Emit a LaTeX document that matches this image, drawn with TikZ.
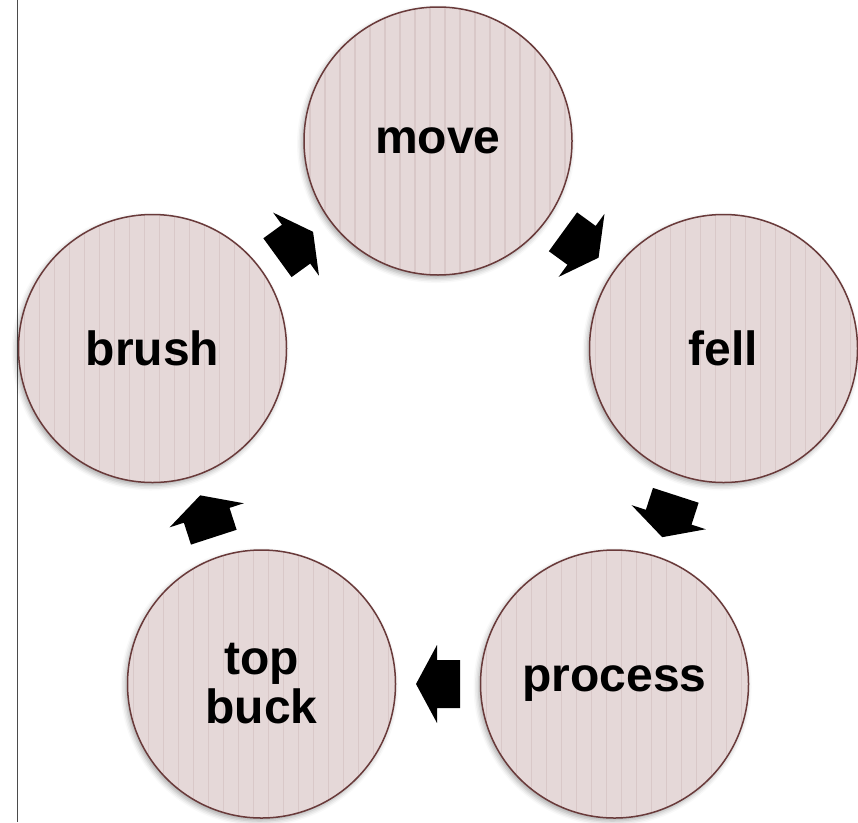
\documentclass[tikz,border=0pt]{standalone}
\usepackage{fontspec}
\setmainfont{Liberation Sans}
\usetikzlibrary{calc,shadows.blur}

\definecolor{discfill}{RGB}{229,216,216}
\definecolor{discstripe}{RGB}{217,200,200}
\definecolor{discedge}{RGB}{105,58,58}
\definecolor{railgray}{RGB}{75,75,75}

\tikzset{
  stage/.style={
    circle, minimum size=268pt, inner sep=0pt,
    fill=discfill, draw=discedge, line width=1.5pt,
    font=\bfseries\fontsize{48}{49}\selectfont, align=center,
    blur shadow={shadow xshift=-2pt, shadow yshift=-3pt,
                 shadow blur radius=5pt, shadow opacity=35},
    path picture={
      \foreach \k in {-9,...,9}
        \draw[discstripe, line width=1.4pt]
          ([xshift=\k*15pt+7pt]path picture bounding box.north) --
          ([xshift=\k*15pt+7pt]path picture bounding box.south);
    }
  },
  cyclearrow/.pic={
    \fill[black] (-22pt,-24pt) -- (1pt,-24pt) -- (1pt,-39pt) -- (22pt,0pt)
      -- (1pt,39pt) -- (1pt,24pt) -- (-22pt,24pt) -- cycle;
  }
}

\begin{document}
\begin{tikzpicture}[x=1pt, y=-1pt]
  \useasboundingbox (0,0) rectangle (858,822);

  % rule along the left margin
  \coordinate (railtop) at (17.5,0);
  \coordinate (railbot) at (17.5,822);
  \draw[railgray, line width=1.8pt] (railtop) -- (railbot);

  % the five stages of the cycle
  \node[stage] (move)    at (438,141)   {move};
  \node[stage] (fell)    at (723.5,348.5) {fell};
  \node[stage] (process) at (614.5,684) {process};
  \node[stage] (topbuck) at (261.5,684) {top\\buck};
  \node[stage] (brush)   at (152.5,348.5) {brush};

  % block arrows half way between consecutive stages
  \foreach \a/\b in {brush/move, move/fell, fell/process, process/topbuck, topbuck/brush}
    \path let \p1=(\a.center), \p2=(\b.center),
              \n1={atan2(\y2-\y1,\x2-\x1)} in
      ($(\p1)!0.5!(\p2)$) pic[rotate=\n1] {cyclearrow};
\end{tikzpicture}
\end{document}
